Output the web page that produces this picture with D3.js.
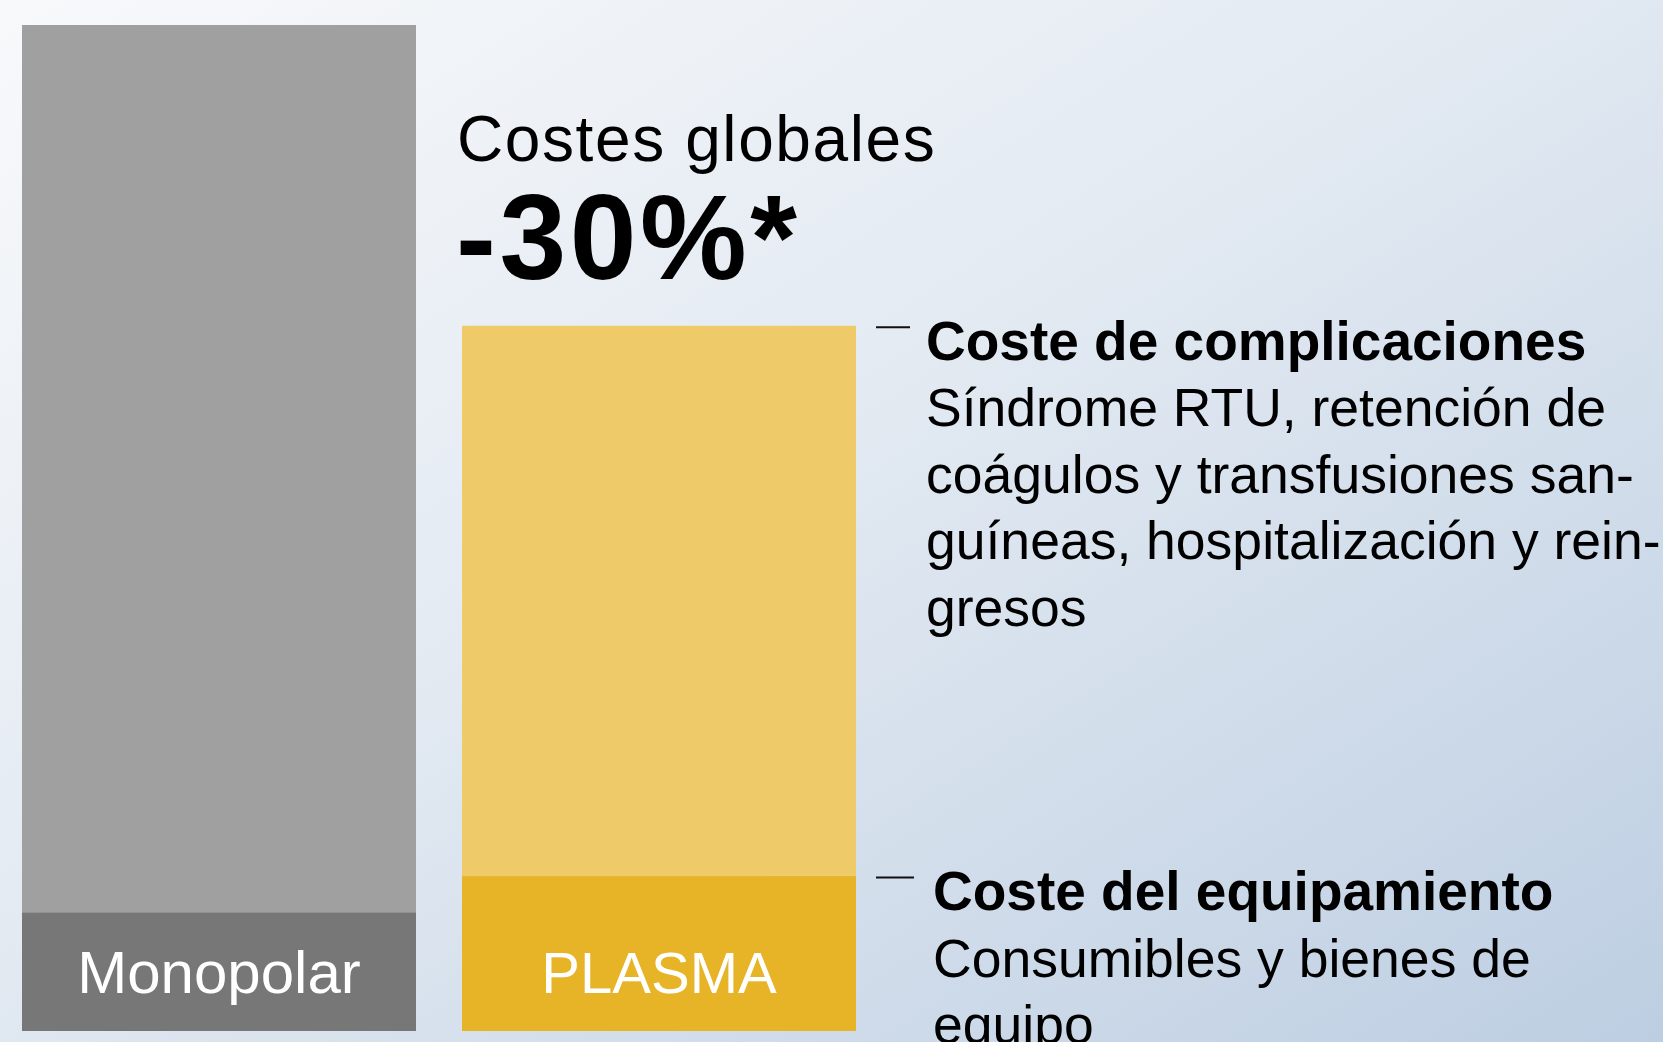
<!DOCTYPE html>
<html>
<head>
<meta charset="utf-8">
<script src="https://cdn.jsdelivr.net/npm/d3@7"></script>
<style>
  body { margin: 0; overflow: hidden; }
  svg { display: block; }
</style>
</head>
<body>
<svg id="drawing_region"></svg>
<script>
// bar data (index: monopolar total = 100)
const categories = ["Monopolar", "PLASMA"];
const equipment = [11.8, 15.4];
const complications = [88.2, 54.7];

const headline = "Costes globales";
const headlineValue = "-30%*";

const notes = [
    { title: "Coste de complicaciones",
      lines: ["Síndrome RTU, retención de", "coágulos y transfusiones san-", "guíneas, hospitalización y rein-", "gresos"] },
    { title: "Coste del equipamiento",
      lines: ["Consumibles y bienes de", "equipo"] }
];

var config = {
    parent: '#drawing_region',
    width: 1663,
    height: 1042,
    barLeft: 22,
    barRight: 856,
    barTop: 25,
    barBottom: 1031
};

const font = "'Liberation Sans', Arial, sans-serif";

const svg = d3.select(config.parent)
    .attr('width', config.width)
    .attr('height', config.height);

// background
const defs = svg.append('defs');
const grad = defs.append('linearGradient')
    .attr('id', 'bg')
    .attr('x1', '0%').attr('y1', '0%')
    .attr('x2', '100%').attr('y2', '100%');
grad.append('stop').attr('offset', '0%').attr('stop-color', '#f8f9fb');
grad.append('stop').attr('offset', '45%').attr('stop-color', '#e3eaf2');
grad.append('stop').attr('offset', '100%').attr('stop-color', '#bdcee2');

svg.append('rect')
    .attr('width', config.width)
    .attr('height', config.height)
    .attr('fill', 'url(#bg)');

const xscale = d3.scaleBand()
    .domain(categories)
    .range([config.barLeft, config.barRight])
    .paddingInner(46 / 440)
    .paddingOuter(0);

const yscale = d3.scaleLinear()
    .domain([0, 100])
    .range([config.barBottom, config.barTop]);

const rows = categories.map((c, i) => ({ cat: c, eq: equipment[i], comp: complications[i] }));

const lightColor = { Monopolar: '#a0a0a0', PLASMA: '#eeca69' };
const darkColor = { Monopolar: '#777777', PLASMA: '#e6b426' };

const chart = svg.append('g');

// upper segment: complications
chart.selectAll('rect.comp')
    .data(rows)
    .enter()
    .append('rect')
    .attr('class', 'comp')
    .attr('x', d => xscale(d.cat))
    .attr('width', xscale.bandwidth())
    .attr('y', d => yscale(d.eq + d.comp))
    .attr('height', d => yscale(d.eq) - yscale(d.eq + d.comp))
    .attr('fill', d => lightColor[d.cat]);

// lower segment: equipment
chart.selectAll('rect.eq')
    .data(rows)
    .enter()
    .append('rect')
    .attr('class', 'eq')
    .attr('x', d => xscale(d.cat))
    .attr('width', xscale.bandwidth())
    .attr('y', d => yscale(d.eq))
    .attr('height', d => yscale(0) - yscale(d.eq))
    .attr('fill', d => darkColor[d.cat]);

// category labels inside the dark segment
chart.selectAll('text.cat')
    .data(rows)
    .enter()
    .append('text')
    .attr('class', 'cat')
    .attr('x', d => xscale(d.cat) + xscale.bandwidth() / 2)
    .attr('y', 993)
    .attr('text-anchor', 'middle')
    .attr('fill', '#ffffff')
    .attr('font-family', font)
    .attr('font-size', d => d.cat == "PLASMA" ? 58 : 60)
    .text(d => d.cat);

// headline
const plasma = rows[1];
const hx = xscale(plasma.cat) - 5;
svg.append('text')
    .attr('x', hx)
    .attr('y', 161)
    .attr('font-family', font)
    .attr('font-size', 64)
    .attr('letter-spacing', 1.6)
    .attr('fill', '#000')
    .text(headline);

svg.append('text')
    .attr('x', hx - 1)
    .attr('y', 279)
    .attr('font-family', font)
    .attr('font-weight', 'bold')
    .attr('font-size', 120)
    .attr('letter-spacing', 3.5)
    .attr('fill', '#000')
    .text(headlineValue);

// annotations next to PLASMA segments
const noteTops = [yscale(plasma.eq + plasma.comp), yscale(plasma.eq)];
const noteX = [926, 933];
const lineGap = 66.5;

notes.forEach((n, i) => {
    const top = noteTops[i];
    svg.append('line')
        .attr('x1', 876).attr('x2', 910 + i * 4)
        .attr('y1', top + 1.5).attr('y2', top + 1.5)
        .attr('stroke', '#111')
        .attr('stroke-width', 2);

    const t = svg.append('text')
        .attr('x', noteX[i])
        .attr('y', top + 34)
        .attr('font-family', font)
        .attr('fill', '#000');

    t.append('tspan')
        .attr('x', noteX[i])
        .attr('font-weight', 'bold')
        .attr('font-size', 55)
        .text(n.title);

    n.lines.forEach(l => {
        t.append('tspan')
            .attr('x', noteX[i])
            .attr('dy', lineGap)
            .attr('font-size', 53.5)
            .text(l);
    });
});
</script>
</body>
</html>
